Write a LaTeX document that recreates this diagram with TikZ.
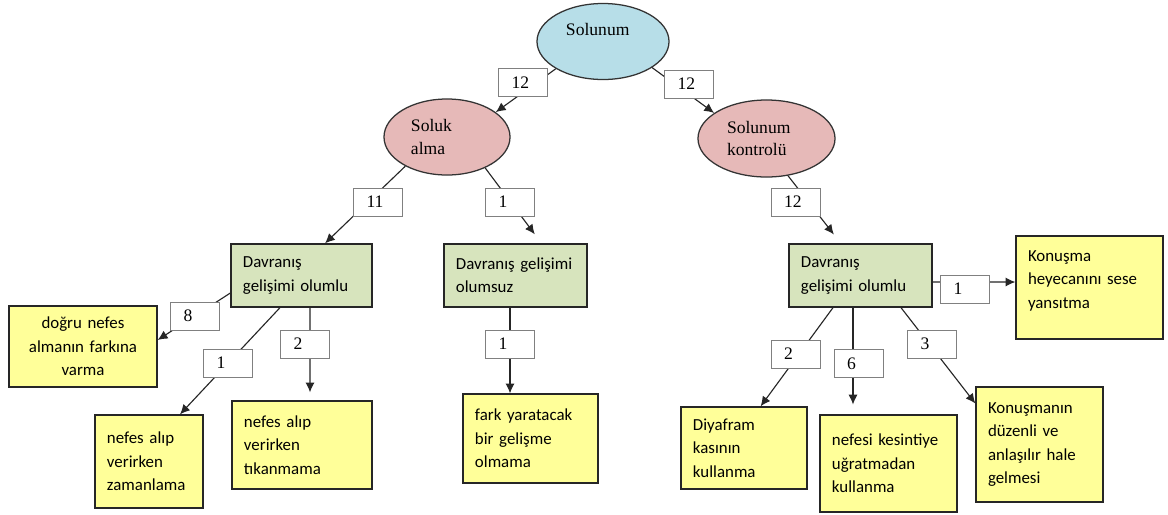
\documentclass[tikz,border=0pt]{standalone}
\usepackage{fontspec}
\setmainfont{Liberation Serif}
\newfontfamily\carlito{Carlito}
\usetikzlibrary{arrows.meta,shapes.geometric,calc}
\definecolor{cblue}{HTML}{B7DEE8}
\definecolor{cpink}{HTML}{E6B9B8}
\definecolor{cgreen}{HTML}{D7E4BD}
\definecolor{cyellow}{HTML}{FFFF99}
\begin{document}
\begin{tikzpicture}[x=0.025cm,y=-0.025cm,
  ell/.style={ellipse, draw=black!80, line width=0.9pt, inner sep=1pt, align=left, font=\fontsize{12.5}{16}\selectfont},
  gbox/.style={rectangle, draw=black!85, line width=0.9pt, fill=cgreen, align=left, inner xsep=0.3cm, inner ysep=2pt, font=\carlito\fontsize{12}{16.6}\selectfont},
  ybox/.style={gbox, fill=cyellow},
  lab/.style={rectangle, draw=black!50, line width=0.6pt, fill=white, minimum width=1.225cm, minimum height=0.7cm, text width=0.575cm, inner xsep=0.325cm, inner ysep=1pt, align=left, font=\fontsize{12.5}{15}\selectfont},
  link/.style={draw=black!85, line width=0.8pt},
  arr/.style={link, -{Latex[length=7pt,width=6.5pt]}}]
\useasboundingbox[fill=white] (0,0) rectangle (1168,514);

% ellipses
\node[ell, fill=cblue, minimum width=3.3cm, minimum height=1.9cm, text width=1.85cm, text height=9pt, text depth=18.2pt] (sol) at (603,41.5) {Solunum};
\node[ell, fill=cpink, minimum width=3.15cm, minimum height=1.9cm, text width=1.8cm] (sa) at (447,137) {Soluk\\alma};
\node[ell, fill=cpink, minimum width=3.425cm, minimum height=1.925cm, text width=1.975cm] (sk) at (766.5,138.5) {Solunum\\kontrolü};

% green boxes
\node[gbox, minimum width=3.525cm, minimum height=1.575cm, text width=2.925cm] (g1) at (301.5,275.5) {Davranış\\gelişimi~olumlu};
\node[gbox, minimum width=3.575cm, minimum height=1.575cm, text width=2.975cm] (g2) at (515.5,275.5) {Davranış~gelişimi\\olumsuz};
\node[gbox, minimum width=3.575cm, minimum height=1.575cm, text width=2.975cm] (g3) at (860.5,275.5) {Davranış\\gelişimi~olumlu};

% yellow boxes
\node[ybox, minimum width=3.7cm, minimum height=2.025cm, text width=3.1cm, align=center] (y1) at (83,346.5) {doğru~nefes\\almanın~farkına\\varma};
\node[ybox, minimum width=2.7cm, minimum height=2.325cm, text width=2.1cm] (y2) at (149,461.5) {nefes~alıp\\verirken\\zamanlama};
\node[ybox, minimum width=3.5cm, minimum height=2.2cm, text width=2.9cm] (y3) at (302,445) {nefes~alıp\\verirken\\tıkanmama};
\node[ybox, minimum width=3.375cm, minimum height=2.225cm, text width=2.775cm] (y4) at (530.5,438.5) {fark~yaratacak\\bir~gelişme\\olmama};
\node[ybox, minimum width=3.675cm, minimum height=2.575cm, text width=3.075cm, text depth=44.9pt] (y5) at (1089.5,287.5) {Konuşma\\heyecanını~sese\\yansıtma};
\node[ybox, minimum width=3.15cm, minimum height=2.05cm, text width=2.55cm] (y6) at (744,448) {Diyafram\\kasının\\kullanma};
\node[ybox, minimum width=3.425cm, minimum height=2.425cm, text width=2.825cm] (y7) at (888.5,463.5) {nefesi~kesintiye\\uğratmadan\\kullanma};
\node[ybox, minimum width=3.175cm, minimum height=2.875cm, text width=2.575cm] (y8) at (1039.5,444.5) {Konuşmanın\\düzenli~ve\\anlaşılır~hale\\gelmesi};

% connectors
\draw[arr] (sol.210) -- (sa.27);
\draw[arr] (sol.-28) -- (sk.154);
\draw[arr] (sa.215) -- ($(g1.north)+(23.5,0)$);
\draw[arr, shorten >=8pt] (sa.-39) -- ($(g2.north)+(26,0)$);
\draw[arr, shorten >=8pt] (sk.-60) -- ($(g3.north)+(-19.7,0)$);
\draw[arr] ($(g1.west)+(0,17.5)$) -- ($(y1.east)+(0,-6.5)$);
\draw[arr] ($(g1.south)+(-21.5,0)$) -- ($(y2.north)+(31,0)$);
\draw[arr, shorten >=5.7pt] ($(g1.south)+(8.5,0)$) -- ($(y3.north)+(8,0)$);
\draw[arr] ($(g2.south)+(-5.5,0)$) -- ($(y4.north)+(-20.5,0)$);
\draw[arr] ($(g3.east)+(0,6.5)$) -- ($(y5.west)+(0,-5.5)$);
\draw[arr] ($(g3.south)+(-27.5,0)$) -- ($(y6.north)+(16.6,0)$);
\draw[arr, shorten >=7pt] ($(g3.south)+(-7.5,0)$) -- ($(y7.north)+(-35.5,0)$);
\draw[arr] ($(g3.south)+(40.5,0)$) -- ($(y8.west)+(0,-41)$);

% labels
\node[lab] (l1) at (523,82.5) {12};
\node[lab] (l2) at (689,84) {12};
\node[lab] (l3) at (378,202) {11};
\node[lab] (l4) at (510,202) {1};
\node[lab] (l5) at (795.5,202) {12};
\node[lab] (l6) at (195,316) {8};
\node[lab] (l7) at (228,363) {1};
\node[lab] (l8) at (305,344) {2};
\node[lab] (l9) at (510,344) {1};
\node[lab] (l10) at (965,289) {1};
\node[lab] (l11) at (795.5,354) {2};
\node[lab] (l12) at (858.5,363.5) {6};
\node[lab] (l13) at (932,344) {3};
\end{tikzpicture}
\end{document}
